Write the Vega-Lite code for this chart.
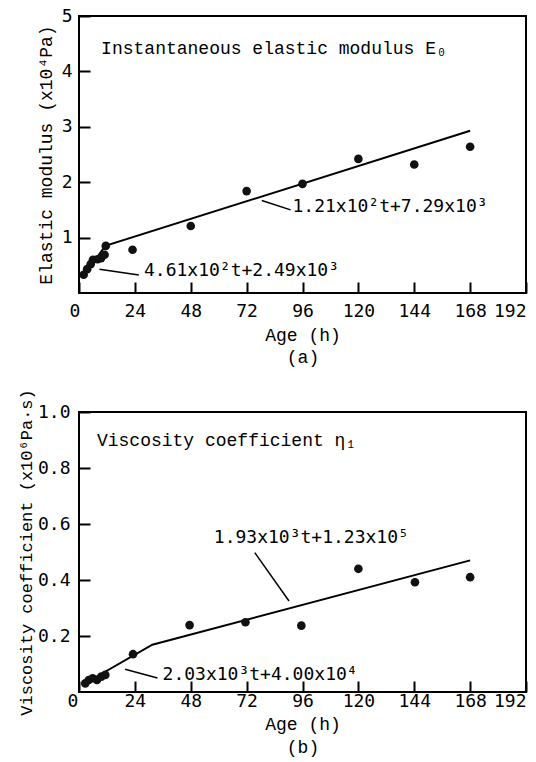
{
  "$schema": "https://vega.github.io/schema/vega-lite/v6.json",
  "background": "white",
  "padding": {"left": 16, "top": 6, "right": 5, "bottom": 2},
  "spacing": 20,
  "config": {
    "view": {"stroke": "black", "strokeWidth": 2},
    "axis": {
      "domain": false, "grid": false,
      "tickColor": "black", "tickWidth": 2, "tickSize": -11,
      "labelFont": "DejaVu Sans Mono", "labelFontSize": 18, "labelColor": "black",
      "titleFont": "Liberation Mono", "titleFontSize": 18, "titleFontWeight": "normal", "titleColor": "black"
    }
  },
  "datasets": {
    "ptsA": [
      {"age": 2, "val": 0.33}, {"age": 3.5, "val": 0.43}, {"age": 5, "val": 0.52}, {"age": 6, "val": 0.6},
      {"age": 8, "val": 0.61}, {"age": 9.5, "val": 0.63}, {"age": 11, "val": 0.69}, {"age": 11.5, "val": 0.85},
      {"age": 23, "val": 0.78}, {"age": 48, "val": 1.21}, {"age": 72, "val": 1.84}, {"age": 96, "val": 1.97},
      {"age": 120, "val": 2.42}, {"age": 144, "val": 2.32}, {"age": 168, "val": 2.64}
    ],
    "lineA": [{"age": 2, "val": 0.31}, {"age": 11.3, "val": 0.85}, {"age": 168, "val": 2.93}],
    "leadA": [
      {"age": 78.5, "val": 1.67, "age2": 90.9, "val2": 1.5},
      {"age": 8.8, "val": 0.43, "age2": 25.7, "val2": 0.325}
    ],
    "eqA": [
      {"age": 91.7, "val": 1.56, "text": "1.21x10²t+7.29x10³"},
      {"age": 27.9, "val": 0.39, "text": "4.61x10²t+2.49x10³"}
    ],
    "ttlA": [{"age": 9.5, "val": 4.41, "text": "Instantaneous elastic modulus E₀"}],
    "ptsB": [
      {"age": 2.7, "val": 0.031}, {"age": 4.2, "val": 0.043}, {"age": 5.9, "val": 0.049}, {"age": 7.7, "val": 0.043},
      {"age": 9.6, "val": 0.055}, {"age": 11.3, "val": 0.061}, {"age": 23.2, "val": 0.135}, {"age": 47.5, "val": 0.239},
      {"age": 71.5, "val": 0.249}, {"age": 95.5, "val": 0.237}, {"age": 120, "val": 0.44}, {"age": 144.3, "val": 0.392},
      {"age": 168, "val": 0.41}
    ],
    "lineB": [{"age": 1.3, "val": 0.025}, {"age": 31.5, "val": 0.169}, {"age": 168, "val": 0.47}],
    "leadB": [
      {"age": 75.5, "val": 0.498, "age2": 90.2, "val2": 0.325},
      {"age": 19.8, "val": 0.081, "age2": 33.7, "val2": 0.05}
    ],
    "eqB": [
      {"age": 57.9, "val": 0.55, "text": "1.93x10³t+1.23x10⁵"},
      {"age": 35.9, "val": 0.0625, "text": "2.03x10³t+4.00x10⁴"}
    ],
    "ttlB": [{"age": 7.7, "val": 0.895, "text": "Viscosity coefficient η₁"}]
  },
  "vconcat": [
    {
      "width": 447, "height": 277,
      "encoding": {
        "x": {"field": "age", "type": "quantitative", "scale": {"domain": [0, 192], "nice": false},
          "axis": {"values": [0, 24, 48, 72, 96, 120, 144, 168, 192], "title": ["Age (h)", "(a)"], "titleLineHeight": 22,
            "labelPadding": 20, "titlePadding": 6,
            "labelOffset": {"condition": {"test": "datum.value === 0", "value": -10}, "value": 0}}},
        "y": {"field": "val", "type": "quantitative", "scale": {"domain": [0, 5], "nice": false},
          "axis": {"values": [1, 2, 3, 4, 5], "title": "Elastic modulus (x10⁴Pa)", "labelPadding": 18, "titlePadding": 6}}
      },
      "layer": [
        {"data": {"name": "lineA"}, "mark": {"type": "line", "color": "black", "strokeWidth": 2}},
        {"data": {"name": "ptsA"}, "mark": {"type": "circle", "color": "#111", "opacity": 1, "size": 75}},
        {"data": {"name": "leadA"}, "mark": {"type": "rule", "color": "black", "strokeWidth": 1.5},
          "encoding": {"x2": {"field": "age2"}, "y2": {"field": "val2"}}},
        {"data": {"name": "eqA"}, "mark": {"type": "text", "align": "left", "baseline": "middle", "font": "DejaVu Sans Mono", "fontSize": 18, "color": "black"},
          "encoding": {"text": {"field": "text"}}},
        {"data": {"name": "ttlA"}, "mark": {"type": "text", "align": "left", "baseline": "middle", "font": "Liberation Mono", "fontSize": 18, "color": "black"},
          "encoding": {"text": {"field": "text"}}}
      ]
    },
    {
      "width": 447, "height": 280,
      "encoding": {
        "x": {"field": "age", "type": "quantitative", "scale": {"domain": [0, 192], "nice": false},
          "axis": {"values": [0, 24, 48, 72, 96, 120, 144, 168, 192], "title": ["Age (h)", "(b)"], "titleLineHeight": 23,
            "labelPadding": 11, "titlePadding": 5,
            "labelOffset": {"condition": {"test": "datum.value === 0", "value": -12}, "value": 0}}},
        "y": {"field": "val", "type": "quantitative", "scale": {"domain": [0, 1], "nice": false},
          "axis": {"values": [0.2, 0.4, 0.6, 0.8, 1.0], "format": ".1f", "title": "Viscosity coefficient (x10⁶Pa·s)", "titleFontSize": 17, "labelPadding": 20, "titlePadding": 2}}
      },
      "layer": [
        {"data": {"name": "lineB"}, "mark": {"type": "line", "color": "black", "strokeWidth": 2}},
        {"data": {"name": "ptsB"}, "mark": {"type": "circle", "color": "#111", "opacity": 1, "size": 75}},
        {"data": {"name": "leadB"}, "mark": {"type": "rule", "color": "black", "strokeWidth": 1.5},
          "encoding": {"x2": {"field": "age2"}, "y2": {"field": "val2"}}},
        {"data": {"name": "eqB"}, "mark": {"type": "text", "align": "left", "baseline": "middle", "font": "DejaVu Sans Mono", "fontSize": 18, "color": "black"},
          "encoding": {"text": {"field": "text"}}},
        {"data": {"name": "ttlB"}, "mark": {"type": "text", "align": "left", "baseline": "middle", "font": "Liberation Mono", "fontSize": 18, "color": "black"},
          "encoding": {"text": {"field": "text"}}}
      ]
    }
  ]
}
